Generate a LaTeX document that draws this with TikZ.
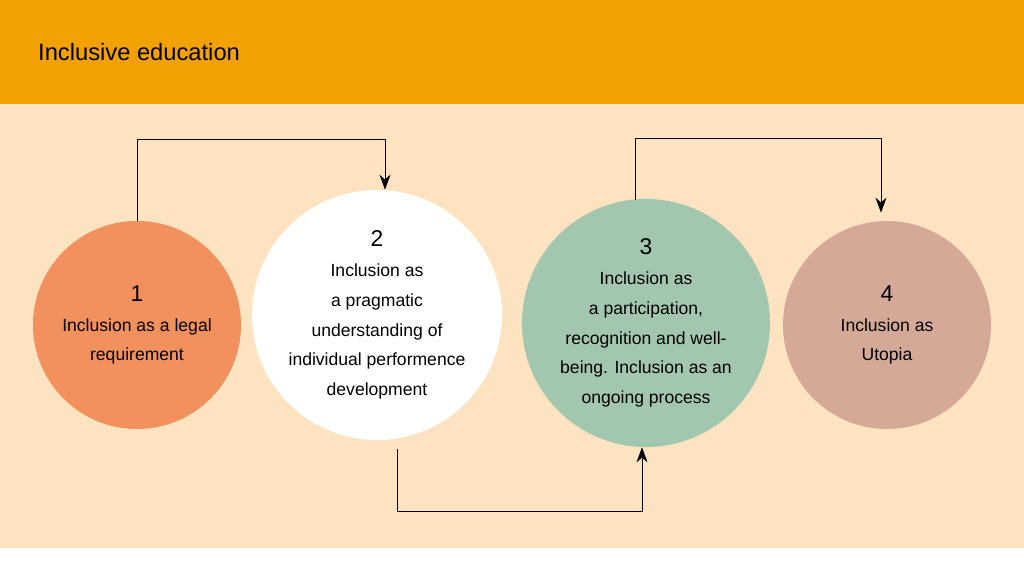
\documentclass[tikz,border=0pt]{standalone}
\usepackage{fontspec}
\setmainfont{Liberation Sans}
\usetikzlibrary{calc}
\usetikzlibrary{positioning}
\usetikzlibrary{arrows.meta}
\definecolor{headorange}{HTML}{F2A100}
\definecolor{peach}{HTML}{FDE3C0}
\definecolor{stepone}{HTML}{F2905E}
\definecolor{stepthree}{HTML}{A3C6AE}
\definecolor{stepfour}{HTML}{D6A898}
\begin{document}
\begin{tikzpicture}
  [
  x=0.02cm, y=-0.02cm,
  % 矢印
  arrow/.style={-{Stealth[length=0.3cm, width=0.22cm]}, thin},
  % 円
  stage/.style={circle, inner sep=0, align=center, font=\fontsize{10}{17}\selectfont},
  ]
  \useasboundingbox (0,0) rectangle (1024,563);
  \fill [headorange] (0,0) rectangle (1024,104);
  \fill [peach] (0,104) rectangle (1024,548);
  \node [anchor=west, font=\fontsize{13.5}{16}\selectfont] (title) at (32,52) {Inclusive education};
  \node [stage, fill=stepone, minimum size=208*0.02cm] (c1) at (137,325)
    {\fontsize{13}{17}\selectfont 1\\Inclusion as a legal\\requirement};
  \node [stage, fill=white, minimum size=250*0.02cm] (c2) at (377,315)
    {\fontsize{13}{17}\selectfont 2\\Inclusion as\\a pragmatic\\understanding of\\individual performence\\development};
  \node [stage, fill=stepthree, minimum size=248*0.02cm] (c3) at (646,323)
    {\fontsize{13}{17}\selectfont 3\\Inclusion as\\a participation,\\recognition and well-\\being. Inclusion as an\\ongoing process};
  \node [stage, fill=stepfour, minimum size=208*0.02cm] (c4) at (887,325)
    {\fontsize{13}{17}\selectfont 4\\Inclusion as\\Utopia};
  \draw [arrow] (c1.north) -- ++(0,-81) -| ($(c2.north)+(8,0)$);
  \draw [arrow] ($(c3.north)+(-11,1)$) -- ++(0,-61) -| ($(c4.north)+(-6,-8)$);
  \draw [arrow] ($(c2.south)+(20,9)$) -- ++(0,62) -| ($(c3.south)+(-4,0)$);
\end{tikzpicture}
\end{document}
